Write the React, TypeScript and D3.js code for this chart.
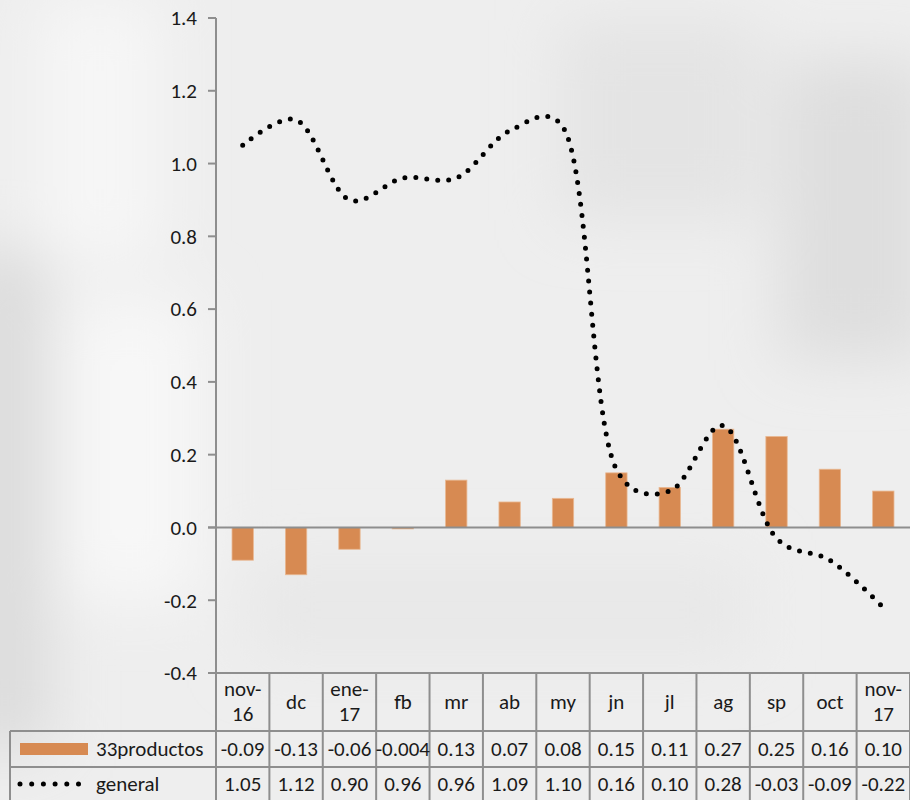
import * as React from "react";
import { useEffect, useRef } from "react";
import * as d3 from "d3";

const months = ["nov-16", "dc", "ene-17", "fb", "mr", "ab", "my", "jn", "jl", "ag", "sp", "oct", "nov-17"];
const productos = [-0.09, -0.13, -0.06, -0.004, 0.13, 0.07, 0.08, 0.15, 0.11, 0.27, 0.25, 0.16, 0.10];
const general = [1.05, 1.12, 0.90, 0.96, 0.96, 1.09, 1.10, 0.16, 0.10, 0.28, -0.03, -0.09, -0.22];
const productosLabels = ["-0.09", "-0.13", "-0.06", "-0.004", "0.13", "0.07", "0.08", "0.15", "0.11", "0.27", "0.25", "0.16", "0.10"];
const generalLabels = ["1.05", "1.12", "0.90", "0.96", "0.96", "1.09", "1.10", "0.16", "0.10", "0.28", "-0.03", "-0.09", "-0.22"];
const yTicks = [-0.4, -0.2, 0, 0.2, 0.4, 0.6, 0.8, 1.0, 1.2, 1.4];
const seriesNames = ["33productos", "general"];

const W = 910;
const H = 800;
const FONT = "Carlito, 'Open Sans', sans-serif";
const FS = 21;
const BAR_COLOR = "#d78a52";
const GRID = "#8e8e8e";

export default function App() {
  const ref = useRef<SVGSVGElement>(null);

  useEffect(() => {
    const svg = d3.select(ref.current);
    svg.selectAll("*").remove();

    const margin = { top: 18, left: 216, right: 0 };
    const plotBottom = 673;
    const rowTop = [673, 731, 767, 803];

    const x = d3.scaleBand<string>().domain(months).range([margin.left, W - margin.right]);
    const y = d3.scaleLinear().domain([-0.4, 1.4]).range([plotBottom, margin.top]);

    // background, a soft blurred light gray
    const defs = svg.append("defs");
    defs.append("filter").attr("id", "blur").attr("x", "-50%").attr("y", "-50%")
      .attr("width", "200%").attr("height", "200%")
      .append("feGaussianBlur").attr("stdDeviation", 30);
    svg.append("rect").attr("width", W).attr("height", H).attr("fill", "#eeeeee");
    const bg = svg.append("g").attr("filter", "url(#blur)");
    bg.append("rect").attr("x", -40).attr("y", 250).attr("width", 90).attr("height", 500).attr("fill", "#dcdcdc");
    bg.append("rect").attr("x", 40).attr("y", 0).attr("width", 120).attr("height", 260).attr("fill", "#f6f6f6");
    bg.append("rect").attr("x", 560).attr("y", 20).attr("width", 200).attr("height", 200).attr("fill", "#e4e4e4");
    bg.append("rect").attr("x", 780).attr("y", 60).attr("width", 150).attr("height", 300).attr("fill", "#dedede");
    bg.append("rect").attr("x", 250).attr("y", 560).attr("width", 500).attr("height", 100).attr("fill", "#e8e8e8");
    bg.append("rect").attr("x", 60).attr("y", 300).attr("width", 140).attr("height", 300).attr("fill", "#f7f7f7");

    // y axis
    const axisG = svg.append("g");
    axisG.append("line")
      .attr("x1", margin.left).attr("x2", margin.left)
      .attr("y1", margin.top).attr("y2", H)
      .attr("stroke", GRID).attr("stroke-width", 2);
    yTicks.forEach(t => {
      axisG.append("line")
        .attr("x1", margin.left - 8).attr("x2", margin.left)
        .attr("y1", y(t)).attr("y2", y(t))
        .attr("stroke", GRID).attr("stroke-width", 2);
      axisG.append("text")
        .attr("x", margin.left - 19).attr("y", y(t)).attr("dy", "0.35em")
        .attr("text-anchor", "end")
        .attr("font-family", FONT).attr("font-size", FS).attr("fill", "#1a1a1a")
        .text(d3.format(".1f")(t).replace("\u2212", "-"));
    });

    // bars
    const bw = x.bandwidth() * 0.4;
    svg.append("g").selectAll("rect")
      .data(productos).enter()
      .append("rect")
      .attr("x", (d, i) => x(months[i])! + (x.bandwidth() - bw) / 2)
      .attr("y", d => y(Math.max(0, d)))
      .attr("width", bw)
      .attr("height", d => Math.max(1, Math.abs(y(d) - y(0))))
      .attr("fill", BAR_COLOR)
      .attr("stroke", "#e9b892").attr("stroke-width", 0.8);

    // zero line
    svg.append("line")
      .attr("x1", margin.left - 8).attr("x2", W)
      .attr("y1", y(0)).attr("y2", y(0))
      .attr("stroke", GRID).attr("stroke-width", 2);

    // general line (smoothed, round dots)
    const line = d3.line<number>()
      .x((d, i) => x(months[i])! + x.bandwidth() / 2)
      .y(d => y(d))
      .curve(d3.curveCatmullRom.alpha(0.3));
    svg.append("path")
      .attr("d", line(general))
      .attr("fill", "none")
      .attr("stroke", "#000")
      .attr("stroke-width", 5)
      .attr("stroke-linecap", "round")
      .attr("stroke-dasharray", "0 11");

    // data table
    const table = svg.append("g");
    const hLine = (yy: number, x1: number) => table.append("line")
      .attr("x1", x1).attr("x2", W).attr("y1", yy).attr("y2", yy)
      .attr("stroke", GRID).attr("stroke-width", 2);
    hLine(rowTop[0], margin.left - 8);
    hLine(rowTop[1], 10);
    hLine(rowTop[2], 10);
    table.append("line")
      .attr("x1", 10).attr("x2", 10).attr("y1", rowTop[1]).attr("y2", H)
      .attr("stroke", GRID).attr("stroke-width", 2);
    months.forEach(m => {
      const xr = x(m)! + x.bandwidth();
      table.append("line")
        .attr("x1", xr).attr("x2", xr).attr("y1", rowTop[0]).attr("y2", H)
        .attr("stroke", GRID).attr("stroke-width", 2);
    });

    const txt = (xx: number, yy: number, s: string, anchor = "middle") => table.append("text")
      .attr("x", xx).attr("y", yy).attr("dy", "0.35em")
      .attr("text-anchor", anchor)
      .attr("font-family", FONT).attr("font-size", FS).attr("fill", "#1a1a1a")
      .text(s);

    months.forEach((m, i) => {
      const cx = x(m)! + x.bandwidth() / 2;
      const parts = m.includes("-") ? [m.split("-")[0] + "-", m.split("-")[1]] : [m];
      const mid = (rowTop[0] + rowTop[1]) / 2;
      if (parts.length === 2) {
        txt(cx, mid - 13, parts[0]);
        txt(cx, mid + 12, parts[1]);
      } else {
        txt(cx, mid, parts[0]);
      }
      txt(cx, (rowTop[1] + rowTop[2]) / 2, productosLabels[i]);
      txt(cx, (rowTop[2] + rowTop[3]) / 2 - 1, generalLabels[i]);
    });

    // legend keys
    const r1 = (rowTop[1] + rowTop[2]) / 2;
    const r2 = (rowTop[2] + rowTop[3]) / 2 - 1;
    table.append("rect")
      .attr("x", 20).attr("y", r1 - 6).attr("width", 68).attr("height", 12)
      .attr("fill", BAR_COLOR);
    txt(96, r1, seriesNames[0], "start");
    table.append("line")
      .attr("x1", 20).attr("x2", 80).attr("y1", r2).attr("y2", r2)
      .attr("stroke", "#000").attr("stroke-width", 5)
      .attr("stroke-linecap", "round").attr("stroke-dasharray", "0 11.7");
    txt(96, r2, seriesNames[1], "start");
  }, []);

  return (
    <svg ref={ref} width={W} height={H} style={{ display: "block", position: "absolute", left: 0, top: 0 }} />
  );
}
